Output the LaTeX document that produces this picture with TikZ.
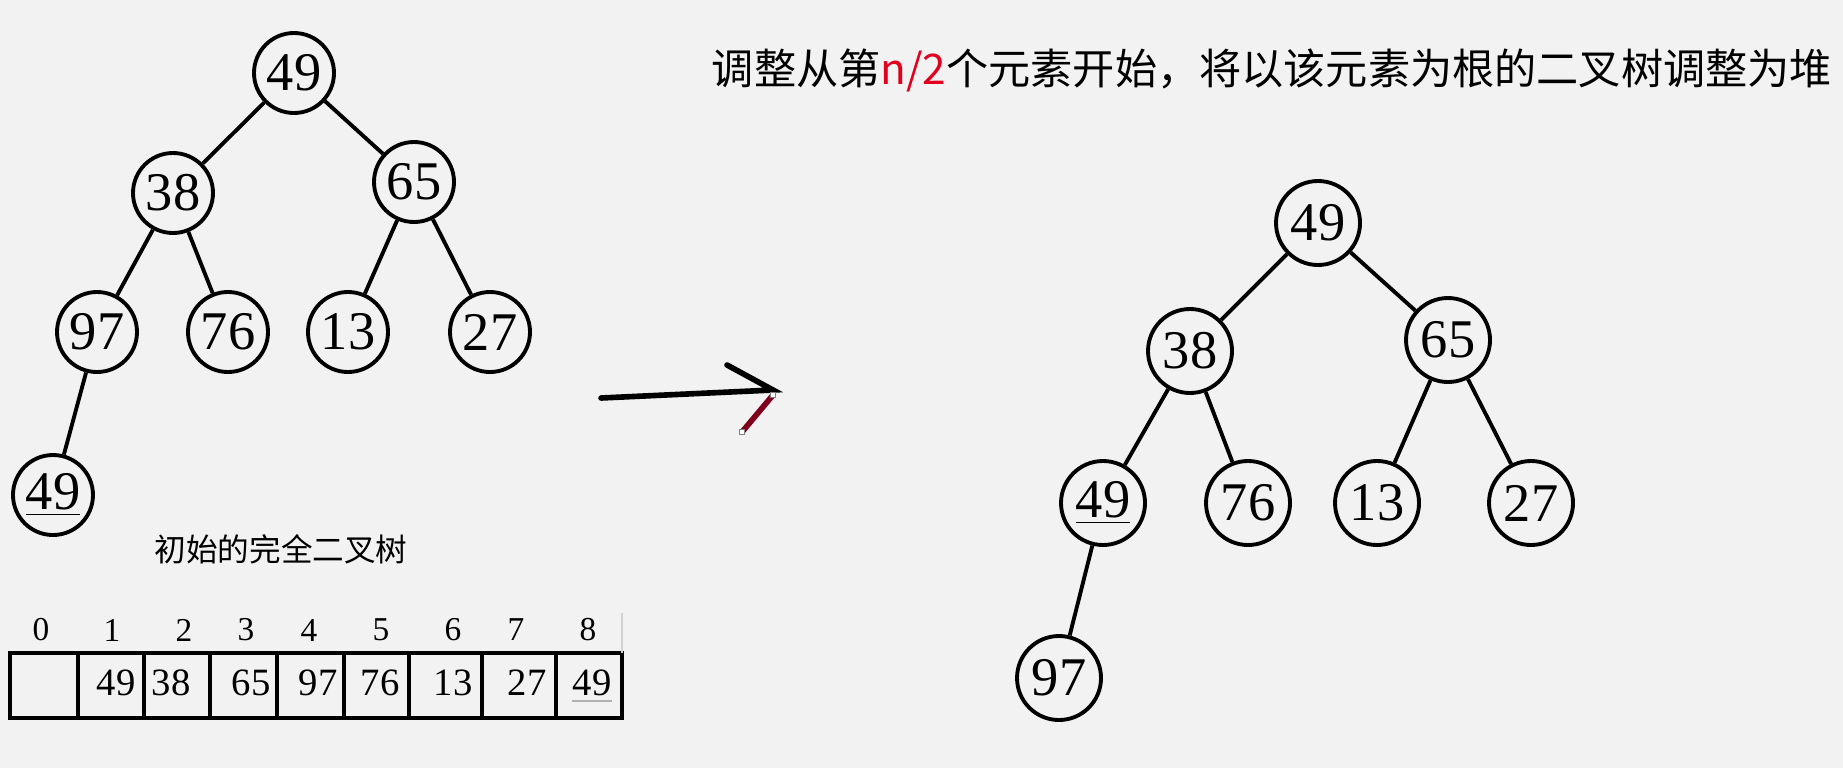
\documentclass[tikz,border=0pt]{standalone}
\usepackage{fontspec}
\setmainfont{Liberation Serif}
\newfontfamily\cjk{Noto Sans CJK SC}
\usetikzlibrary{positioning,calc}
\definecolor{bgcol}{RGB}{242,242,242}
\definecolor{penred}{RGB}{128,0,28}
\definecolor{hlred}{RGB}{225,0,30}

\begin{document}
\begin{tikzpicture}[
            key/.style={circle, draw, line width=1.1pt, minimum size=0.8cm, inner sep=0pt, font=\fontsize{15.5}{15.5}\selectfont},
            edge/.style={line width=1.1pt},
            cell/.style={inner sep=0pt, font=\fontsize{11}{11}\selectfont},
            idx/.style={inner sep=0pt, font=\fontsize{9.5}{9.5}\selectfont},
            pen/.style={line width=1.6pt, line cap=round},
            handle/.style={draw=gray, fill=white, line width=0.4pt, inner sep=0pt, minimum size=0.05cm}
        ]
            \fill[bgcol] (0,0) rectangle (18.43,-7.68);
            \useasboundingbox (0,0) rectangle (18.43,-7.68);
            \foreach \x/\y/\name/\lab in {2.94/-0.73/a1/49,1.73/-1.93/a2/38,4.14/-1.82/a3/65,0.97/-3.32/a4/97,2.28/-3.32/a5/76,3.48/-3.32/a6/13,4.90/-3.32/a7/27,0.53/-4.95/a8/\underline{49}} {
                \node[key] (\name) at (\x,\y) {\lab};
            }
            \foreach \a/\b in {a1/a2,a1/a3,a2/a4,a2/a5,a3/a6,a3/a7,a4/a8} {
                \draw[edge] (\a) -- (\b);
            }
            \node[font=\fontsize{9}{9}\selectfont\cjk] (cap) at (2.81,-5.49) {初始的完全二叉树};
            \foreach \x/\lab in {0.41/0,1.12/1,1.84/2,2.46/3,3.09/4,3.81/5,4.53/6,5.16/7,5.88/8} {
                \node[idx] (i\lab) at (\x,-6.30) {\lab};
            }
            \draw[line width=1pt] (0.10,-6.53) rectangle (6.22,-7.18);
            \foreach \x in {0.78,1.44,2.10,2.77,3.44,4.09,4.82,5.56} {
                \draw[line width=1pt] (\x,-6.53) -- (\x,-7.18);
            }
            \draw[gray!35, line width=0.6pt] (6.22,-6.13) -- (6.22,-6.53);
            \foreach \x/\name/\lab in {1.16/v1/49,1.71/v2/38,2.51/v3/65,3.18/v4/97,3.80/v5/76,4.53/v6/13,5.27/v7/27,5.92/v8/49} {
                \node[cell] (\name) at (\x,-6.83) {\lab};
            }
            \draw[gray!60, line width=0.5pt] ([yshift=-1.2pt]v8.south west) -- ([yshift=-1.2pt]v8.south east);
            \coordinate (tail) at (6.01,-3.98);
            \coordinate (tip) at (7.73,-3.90);
            \coordinate (wing) at (7.27,-3.65);
            \coordinate (redtop) at (7.73,-3.95);
            \coordinate (redend) at (7.42,-4.32);
            \draw[pen] (tail) -- (tip) -- (wing);
            \draw[pen, penred] (redtop) -- (redend);
            \node[handle] (h1) at (redtop) {};
            \node[handle] (h2) at (redend) {};
            \node[font=\fontsize{12}{12}\selectfont\cjk] (title) at (12.72,-0.70) {调整从第\textcolor{hlred}{n/2}个元素开始，将以该元素为根的二叉树调整为堆};
            \foreach \x/\y/\name/\lab in {13.18/-2.23/b1/49,11.90/-3.51/b2/38,14.48/-3.40/b3/65,11.03/-5.03/b4/\underline{49},12.48/-5.03/b5/76,13.77/-5.03/b6/13,15.31/-5.03/b7/27,10.59/-6.78/b8/97} {
                \node[key, minimum size=0.84cm] (\name) at (\x,\y) {\lab};
            }
            \foreach \a/\b in {b1/b2,b1/b3,b2/b4,b2/b5,b3/b6,b3/b7,b4/b8} {
                \draw[edge] (\a) -- (\b);
            }
        \end{tikzpicture}
\end{document}
